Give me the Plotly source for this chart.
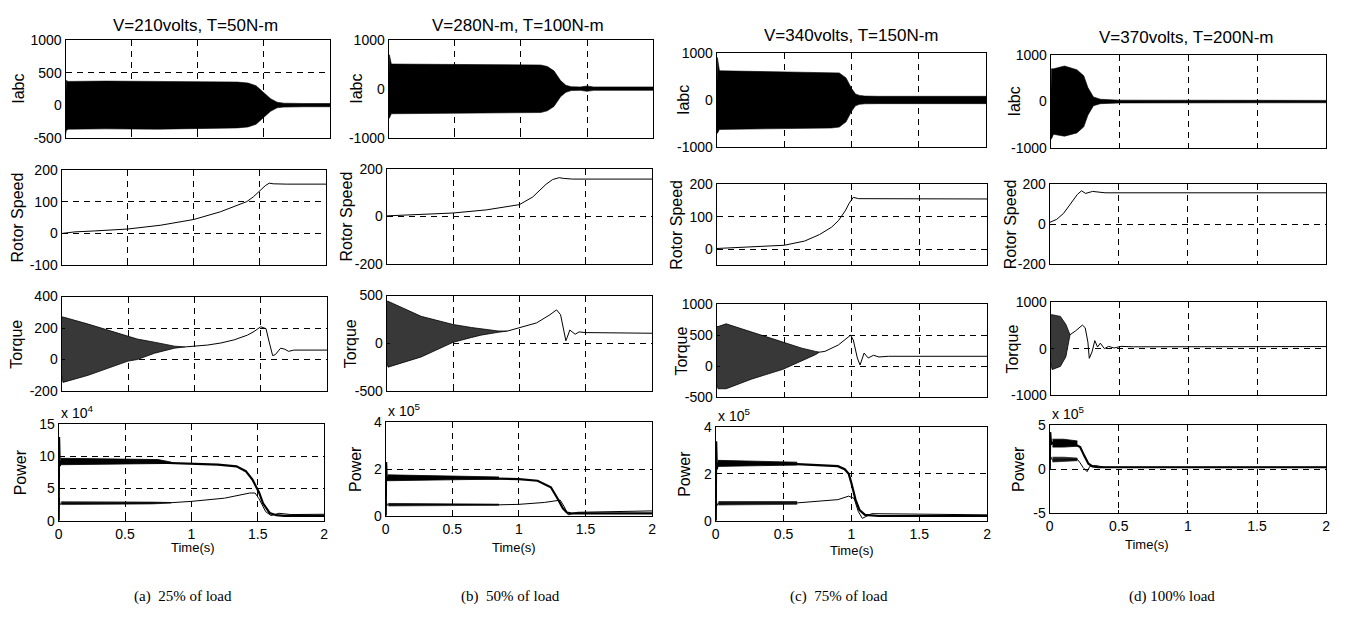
import plotly.graph_objects as go

W, H = 1347, 632

# ---------------- data ----------------
time_ticks = [0, 0.5, 1, 1.5, 2]
time_ticklabels = ["0", "0.5", "1", "1.5", "2"]

titles = ["V=210volts, T=50N-m", "V=280N-m, T=100N-m", "V=340volts, T=150N-m", "V=370volts, T=200N-m"]
captions = ["(a)  25% of load", "(b)  50% of load", "(c)  75% of load", "(d) 100% load"]
row_labels = ["Iabc", "Rotor Speed", "Torque", "Power"]
power_exponents = [4, 5, 5, 5]

# ----- (a) 25% load -----
a_iabc_t = [0, 0.005, 0.02, 0.3, 0.7, 1.0, 1.3, 1.38, 1.44, 1.5, 1.55, 1.6, 1.65, 1.8, 2.0]
a_iabc_hi = [0, 380, 365, 370, 365, 365, 355, 340, 300, 190, 100, 45, 30, 25, 25]
a_iabc_lo = [-450, -390, -370, -365, -370, -365, -350, -335, -295, -185, -95, -40, -30, -25, -25]

a_speed_t = [0, 0.1, 0.25, 0.5, 0.75, 1.0, 1.2, 1.3, 1.4, 1.45, 1.5, 1.54, 1.57, 1.6, 1.7, 2.0]
a_speed_v = [0, 5, 8, 14, 26, 44, 68, 83, 100, 115, 135, 150, 158, 156, 155, 155]

a_torq_env_t = [0, 0.01, 0.2, 0.37, 0.5, 0.57, 0.7, 0.85, 0.93]
a_torq_env_hi = [270, 270, 225, 180, 145, 130, 110, 85, 80]
a_torq_env_lo = [-100, -145, -100, -50, -10, 0, 40, 72, 80]
a_torq_t = [0.93, 1.0, 1.1, 1.2, 1.3, 1.4, 1.45, 1.5, 1.54, 1.56, 1.59, 1.61, 1.65, 1.68, 1.71, 1.75, 2.0]
a_torq_v = [80, 84, 92, 105, 125, 155, 178, 208, 196, 124, 25, 31, 72, 66, 52, 60, 60]

a_p1_t = [0, 0.003, 0.008, 0.015, 0.5, 0.8, 1.0, 1.2, 1.34, 1.41, 1.46, 1.51, 1.54, 1.59, 1.64, 1.7, 2.0]
a_p1_v = [0, 13, 8.5, 9.2, 9.2, 9.0, 8.85, 8.7, 8.45, 7.7, 6.4, 4.4, 2.7, 1.2, 0.85, 0.75, 0.75]
a_p1_band_t = [0.015, 0.3, 0.6, 0.75, 0.85]
a_p1_band_hi = [9.7, 9.6, 9.6, 9.5, 9.1]
a_p1_band_lo = [8.7, 8.8, 8.8, 8.9, 8.9]
a_p2_t = [0, 0.004, 0.01, 0.02, 0.5, 0.85, 1.0, 1.25, 1.44, 1.48, 1.51, 1.56, 1.6, 1.66, 1.75, 2.0]
a_p2_v = [0, 3.6, 2.5, 2.7, 2.7, 2.8, 3.0, 3.5, 4.3, 4.3, 3.4, 1.4, 0.8, 1.15, 0.95, 1.0]
a_p2_band_t = [0.02, 0.4, 0.7, 0.85]
a_p2_band_hi = [2.95, 2.95, 2.9, 2.82]
a_p2_band_lo = [2.5, 2.5, 2.6, 2.75]

# ----- (b) 50% load -----
b_iabc_t = [0, 0.005, 0.02, 0.5, 1.0, 1.15, 1.2, 1.25, 1.3, 1.34, 1.38, 1.45, 1.5, 1.55, 2.0]
b_iabc_hi = [0, 700, 510, 500, 495, 490, 460, 370, 170, 75, 45, 40, 60, 40, 40]
b_iabc_lo = [-600, -600, -510, -500, -495, -485, -450, -360, -160, -70, -35, -30, -50, -30, -30]

b_speed_t = [0, 0.25, 0.5, 0.75, 1.0, 1.1, 1.2, 1.25, 1.3, 1.33, 1.4, 2.0]
b_speed_v = [3, 8, 15, 28, 50, 82, 135, 155, 163, 160, 157, 157]

b_torq_env_t = [0, 0.01, 0.26, 0.5, 0.64, 0.71, 0.84, 0.91]
b_torq_env_hi = [440, 440, 282, 197, 165, 153, 129, 128]
b_torq_env_lo = [-200, -250, -143, 10, 61, 85, 115, 128]
b_torq_t = [0.91, 1.0, 1.13, 1.23, 1.28, 1.31, 1.33, 1.35, 1.36, 1.38, 1.42, 1.45, 1.5, 2.0]
b_torq_v = [128, 163, 214, 299, 350, 299, 146, 27, 61, 139, 95, 119, 112, 105]

b_p1_t = [0, 0.003, 0.008, 0.015, 0.5, 0.85, 1.0, 1.14, 1.24, 1.29, 1.33, 1.36, 1.4, 2.0]
b_p1_v = [0, 2.3, 1.5, 1.65, 1.62, 1.6, 1.57, 1.5, 1.22, 0.74, 0.32, 0.14, 0.1, 0.1]
b_p1_band_t = [0.015, 0.5, 0.85]
b_p1_band_hi = [1.75, 1.7, 1.66]
b_p1_band_lo = [1.5, 1.55, 1.57]
b_p2_t = [0, 0.004, 0.01, 0.02, 0.85, 1.0, 1.19, 1.31, 1.34, 1.37, 1.44, 2.0]
b_p2_v = [0, 0.65, 0.45, 0.5, 0.47, 0.49, 0.57, 0.67, 0.39, 0.04, 0.15, 0.21]
b_p2_band_t = [0.02, 0.5, 0.85]
b_p2_band_hi = [0.53, 0.52, 0.5]
b_p2_band_lo = [0.42, 0.43, 0.45]

# ----- (c) 75% load -----
c_iabc_t = [0, 0.005, 0.02, 0.5, 0.85, 0.91, 0.96, 1.0, 1.03, 1.06, 1.1, 1.2, 2.0]
c_iabc_hi = [0, 900, 620, 600, 590, 575, 470, 250, 130, 100, 85, 80, 80]
c_iabc_lo = [-700, -700, -620, -605, -590, -570, -460, -240, -120, -90, -78, -75, -75]

c_speed_t = [0, 0.25, 0.5, 0.65, 0.76, 0.85, 0.9, 0.95, 0.98, 1.01, 1.05, 2.0]
c_speed_v = [2, 6, 12, 25, 45, 68, 88, 118, 142, 160, 156, 155]

c_torq_env_t = [0, 0.01, 0.07, 0.26, 0.49, 0.63, 0.73, 0.76]
c_torq_env_hi = [640, 640, 684, 552, 395, 289, 237, 225]
c_torq_env_lo = [-300, -368, -368, -210, -53, 79, 184, 225]
c_torq_t = [0.76, 0.8, 0.9, 0.99, 1.01, 1.04, 1.06, 1.09, 1.12, 1.16, 1.2, 1.27, 2.0]
c_torq_v = [225, 237, 342, 500, 421, 131, 16, 210, 131, 174, 147, 158, 158]

c_p1_t = [0, 0.003, 0.008, 0.015, 0.6, 0.8, 0.9, 0.95, 0.98, 1.0, 1.03, 1.06, 1.1, 1.2, 2.0]
c_p1_v = [0, 3.4, 2.2, 2.45, 2.42, 2.38, 2.33, 2.2, 2.0, 1.6, 0.9, 0.45, 0.25, 0.2, 0.2]
c_p1_band_t = [0.015, 0.3, 0.6]
c_p1_band_hi = [2.58, 2.55, 2.5]
c_p1_band_lo = [2.32, 2.35, 2.38]
c_p2_t = [0, 0.004, 0.01, 0.02, 0.6, 0.9, 0.98, 1.02, 1.05, 1.08, 1.15, 2.0]
c_p2_v = [0, 0.9, 0.65, 0.75, 0.76, 0.9, 1.05, 0.95, 0.4, 0.1, 0.3, 0.25]
c_p2_band_t = [0.02, 0.6]
c_p2_band_hi = [0.82, 0.82]
c_p2_band_lo = [0.67, 0.7]

# ----- (d) 100% load -----
d_iabc_t = [0, 0.005, 0.02, 0.1, 0.19, 0.24, 0.27, 0.31, 0.36, 0.45, 0.5, 2.0]
d_iabc_hi = [0, 700, 700, 760, 680, 550, 300, 100, 50, 40, 30, 25]
d_iabc_lo = [-800, -800, -700, -740, -670, -540, -290, -90, -45, -35, -30, -25]

d_speed_t = [0, 0.05, 0.1, 0.15, 0.2, 0.23, 0.26, 0.31, 0.4, 2.0]
d_speed_v = [10, 25, 55, 105, 150, 168, 155, 165, 158, 158]

d_torq_env_t = [0, 0.01, 0.07, 0.11, 0.14]
d_torq_env_hi = [730, 732, 697, 523, 300]
d_torq_env_lo = [-300, -453, -383, -174, 300]
d_torq_t = [0.14, 0.18, 0.23, 0.25, 0.27, 0.28, 0.3, 0.32, 0.34, 0.36, 0.39, 0.42, 0.46, 0.51, 0.6, 2.0]
d_torq_v = [300, 383, 509, 453, 139, -209, -70, 174, 35, 118, 0, 49, 14, 49, 40, 45]

d_p1_t = [0, 0.003, 0.01, 0.02, 0.17, 0.22, 0.25, 0.28, 0.31, 0.35, 2.0]
d_p1_v = [0, 4.2, 2.8, 3.0, 2.9, 2.5, 1.5, 0.6, 0.3, 0.2, 0.2]
d_p1_band_t = [0.02, 0.1, 0.2]
d_p1_band_hi = [3.4, 3.4, 3.2]
d_p1_band_lo = [2.5, 2.5, 2.6]
d_p2_t = [0, 0.004, 0.02, 0.2, 0.22, 0.24, 0.27, 0.29, 0.33, 0.4, 2.0]
d_p2_v = [0, 1.5, 1.0, 1.1, 0.7, 0.2, -0.3, 0.3, 0.4, 0.2, 0.2]
d_p2_band_t = [0.02, 0.1, 0.2]
d_p2_band_hi = [1.35, 1.35, 1.25]
d_p2_band_lo = [0.8, 0.85, 0.95]

# axis ranges / ticks per column
iabc_ranges = [[-500, 1000], [-1000, 1000], [-1000, 1000], [-1000, 1000]]
iabc_ticks = [[-500, 0, 500, 1000], [-1000, 0, 1000], [-1000, 0, 1000], [-1000, 0, 1000]]
speed_ranges = [[-100, 200], [-200, 200], [-50, 200], [-200, 200]]
speed_ticks = [[-100, 0, 100, 200], [-200, 0, 200], [0, 100, 200], [-200, 0, 200]]
torq_ranges = [[-200, 400], [-500, 500], [-500, 1000], [-1000, 1000]]
torq_ticks = [[-200, 0, 200, 400], [-500, 0, 500], [-500, 0, 500, 1000], [-1000, 0, 1000]]
power_ranges = [[0, 15], [0, 4], [0, 4], [-5, 5]]
power_ticks = [[0, 5, 10, 15], [0, 2, 4], [0, 2, 4], [-5, 0, 5]]

# ---------------- layout geometry (pixels: left, right, top, bottom) ----------------
boxes = [
    [(62, 328, 33, 133), (58, 324, 166, 264), (58, 325, 296, 393), (55, 322, 427, 526)],
    [(387, 653, 33, 133), (385, 652, 165, 263), (385, 652, 295, 393), (384, 652, 425, 521)],
    [(717, 988, 46, 143), (717, 989, 181, 264), (717, 989, 304, 399), (716, 989, 430, 526)],
    [(1053, 1330, 48, 144), (1052, 1330, 181, 263), (1053, 1330, 302, 397), (1052, 1330, 428, 518)],
]
title_pos = [(193, 18), (517, 18), (853, 28), (1190, 30)]
caption_pos = [(180, 604), (510, 604), (840, 604), (1175, 604)]
timelabel_pos = [(190, 554), (513, 553), (853, 557), (1150, 550)]
ylabel_x = [[15, 14, 13, 17], [355, 345, 348, 353], [683, 677, 682, 685], [1017, 1012, 1015, 1020]]

FONT = "Liberation Sans, Arial, sans-serif"

fig = go.Figure()

def px(x):
    return x / W

def py(y):
    return 1 - y / H

col_data = [
    dict(iabc=(a_iabc_t, a_iabc_hi, a_iabc_lo), speed=(a_speed_t, a_speed_v),
         tenv=(a_torq_env_t, a_torq_env_hi, a_torq_env_lo), torq=(a_torq_t, a_torq_v),
         p1=(a_p1_t, a_p1_v), p1b=(a_p1_band_t, a_p1_band_hi, a_p1_band_lo),
         p2=(a_p2_t, a_p2_v), p2b=(a_p2_band_t, a_p2_band_hi, a_p2_band_lo)),
    dict(iabc=(b_iabc_t, b_iabc_hi, b_iabc_lo), speed=(b_speed_t, b_speed_v),
         tenv=(b_torq_env_t, b_torq_env_hi, b_torq_env_lo), torq=(b_torq_t, b_torq_v),
         p1=(b_p1_t, b_p1_v), p1b=(b_p1_band_t, b_p1_band_hi, b_p1_band_lo),
         p2=(b_p2_t, b_p2_v), p2b=(b_p2_band_t, b_p2_band_hi, b_p2_band_lo)),
    dict(iabc=(c_iabc_t, c_iabc_hi, c_iabc_lo), speed=(c_speed_t, c_speed_v),
         tenv=(c_torq_env_t, c_torq_env_hi, c_torq_env_lo), torq=(c_torq_t, c_torq_v),
         p1=(c_p1_t, c_p1_v), p1b=(c_p1_band_t, c_p1_band_hi, c_p1_band_lo),
         p2=(c_p2_t, c_p2_v), p2b=(c_p2_band_t, c_p2_band_hi, c_p2_band_lo)),
    dict(iabc=(d_iabc_t, d_iabc_hi, d_iabc_lo), speed=(d_speed_t, d_speed_v),
         tenv=(d_torq_env_t, d_torq_env_hi, d_torq_env_lo), torq=(d_torq_t, d_torq_v),
         p1=(d_p1_t, d_p1_v), p1b=(d_p1_band_t, d_p1_band_hi, d_p1_band_lo),
         p2=(d_p2_t, d_p2_v), p2b=(d_p2_band_t, d_p2_band_hi, d_p2_band_lo)),
]

def add_band(t, hi, lo, xa, ya, fill, lw=0.6):
    fig.add_trace(go.Scatter(x=t, y=hi, mode="lines", line=dict(color="black", width=lw),
                             xaxis=xa, yaxis=ya, showlegend=False, hoverinfo="skip"))
    fig.add_trace(go.Scatter(x=t, y=lo, mode="lines", line=dict(color="black", width=lw),
                             fill="tonexty", fillcolor=fill,
                             xaxis=xa, yaxis=ya, showlegend=False, hoverinfo="skip"))

def add_line(t, v, xa, ya, lw=1.0, color="black"):
    fig.add_trace(go.Scatter(x=t, y=v, mode="lines", line=dict(color=color, width=lw),
                             xaxis=xa, yaxis=ya, showlegend=False, hoverinfo="skip"))

annotations = []
idx = 0
for c in range(4):
    d = col_data[c]
    ranges = [iabc_ranges[c], speed_ranges[c], torq_ranges[c], power_ranges[c]]
    ticks = [iabc_ticks[c], speed_ticks[c], torq_ticks[c], power_ticks[c]]
    for r in range(4):
        idx += 1
        xa = "x" if idx == 1 else f"x{idx}"
        ya = "y" if idx == 1 else f"y{idx}"
        xk = "xaxis" if idx == 1 else f"xaxis{idx}"
        yk = "yaxis" if idx == 1 else f"yaxis{idx}"
        l, rr, t, b = boxes[c][r]
        common = dict(showline=True, mirror=True, linecolor="black", linewidth=1.3,
                      showgrid=True, gridcolor="black", gridwidth=1, griddash="6px,5px",
                      zeroline=False, ticks="inside", ticklen=3, tickcolor="black",
                      tickfont=dict(family=FONT, size=14, color="black"), fixedrange=True)
        fig.layout[xk] = dict(common, domain=[px(l), px(rr)], range=[0, 2], anchor=ya,
                              tickvals=time_ticks, ticktext=time_ticklabels,
                              showticklabels=(r == 3))
        fig.layout[yk] = dict(common, domain=[py(b), py(t)], range=ranges[r], anchor=xa,
                              tickvals=ticks[r], ticktext=[str(v) for v in ticks[r]])
        if r == 0:
            add_band(*d["iabc"], xa, ya, "black")
        elif r == 1:
            add_line(*d["speed"], xa, ya, lw=1.0)
        elif r == 2:
            add_band(*d["tenv"], xa, ya, "#383838", lw=0.8)
            add_line(*d["torq"], xa, ya, lw=1.0)
        else:
            add_band(*d["p1b"], xa, ya, "black", lw=0.8)
            add_line(*d["p1"], xa, ya, lw=2.2)
            add_band(*d["p2b"], xa, ya, "#222222", lw=0.6)
            add_line(*d["p2"], xa, ya, lw=1.0)
        annotations.append(dict(text=row_labels[r], x=px(ylabel_x[c][r]), y=py((t + b) / 2),
                                xref="paper", yref="paper", textangle=-90, showarrow=False,
                                xanchor="center", yanchor="middle",
                                font=dict(family=FONT, size=16, color="black")))
        if r == 3:
            annotations.append(dict(text=f"x 10<sup>{power_exponents[c]}</sup>", x=px(l), y=py(t - 1),
                                    xref="paper", yref="paper", showarrow=False,
                                    xanchor="left", yanchor="bottom",
                                    font=dict(family=FONT, size=14, color="black")))

for c in range(4):
    annotations.append(dict(text=titles[c], x=px(title_pos[c][0]), y=py(title_pos[c][1]),
                            xref="paper", yref="paper", showarrow=False,
                            xanchor="center", yanchor="middle",
                            font=dict(family=FONT, size=17, color="black")))
    annotations.append(dict(text="Time(s)", x=px(timelabel_pos[c][0]), y=py(timelabel_pos[c][1]),
                            xref="paper", yref="paper", showarrow=False,
                            xanchor="center", yanchor="middle",
                            font=dict(family=FONT, size=13, color="black")))
    annotations.append(dict(text=captions[c], x=px(caption_pos[c][0]), y=py(caption_pos[c][1]),
                            xref="paper", yref="paper", showarrow=False,
                            xanchor="center", yanchor="middle",
                            font=dict(family="Liberation Serif, Times New Roman, serif", size=15, color="black")))

fig.update_layout(width=W, height=H, margin=dict(l=0, r=0, t=0, b=0),
                  paper_bgcolor="white", plot_bgcolor="white",
                  annotations=annotations, showlegend=False)

fig.write_html("out.html", include_plotlyjs=True, config={"displayModeBar": False})
